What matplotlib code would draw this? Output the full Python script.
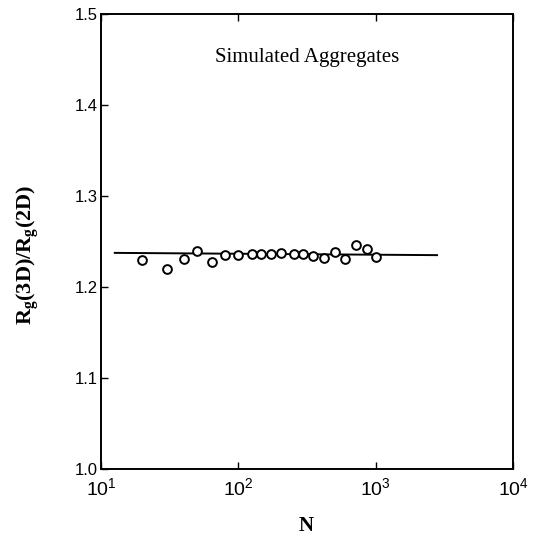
import math
import matplotlib
matplotlib.use("Agg")
import matplotlib.pyplot as plt
from matplotlib.ticker import FixedLocator, FuncFormatter, NullLocator

plt.rcParams['mathtext.fontset'] = 'custom'
plt.rcParams['mathtext.rm'] = 'Liberation Serif'
plt.rcParams['mathtext.bf'] = 'Liberation Serif:bold'
plt.rcParams['mathtext.it'] = 'Liberation Serif:italic'
plt.rcParams['mathtext.sf'] = 'Liberation Sans'

# data
N_vals = [20, 30, 40, 50, 64, 80, 100, 125, 146, 174, 204, 255, 297, 348, 421, 506, 598, 720, 861, 1007]
ratio = [1.2297, 1.2195, 1.2304, 1.2399, 1.2278, 1.2352, 1.2352, 1.2360, 1.2360, 1.2365,
         1.2370, 1.2360, 1.2360, 1.2344, 1.2322, 1.2388, 1.2308, 1.2462, 1.2414, 1.2326]
fit_N = [12.6, 2800]
fit_ratio = [1.2375, 1.2350]
title_text = "Simulated Aggregates"
yticks = [1.0, 1.1, 1.2, 1.3, 1.4, 1.5]
xticks = [10, 100, 1000, 10000]

fig = plt.figure(figsize=(5.39, 5.37), dpi=100)
ax = fig.add_axes([101/539, 1 - 469/537, (513-101)/539, (469-14)/537])

ax.plot(fit_N, fit_ratio, color='black', lw=1.4, zorder=2)
ax.plot(N_vals, ratio, 'o', ms=6.3, mfc='white', mec='black', mew=1.4, zorder=3)

ax.set_xscale('log')
ax.set_xlim(10, 10000)
ax.set_ylim(1.0, 1.5)
ax.xaxis.set_major_locator(FixedLocator(xticks))
ax.xaxis.set_minor_locator(NullLocator())
ax.xaxis.set_major_formatter(FuncFormatter(lambda v, p: r'$\mathsf{10^{%d}}$' % round(math.log10(v))))
ax.set_yticks(yticks)
ax.set_yticklabels([f"{v:.1f}" for v in yticks], fontfamily='Liberation Sans', fontsize=12)
ax.tick_params(axis='x', which='both', direction='in', top=True, length=5, width=1, labelsize=14, pad=6)
ax.tick_params(axis='y', direction='in', length=5, width=1, right=False, pad=2)
for s in ax.spines.values():
    s.set_linewidth(1.4)

ax.text(0.5, 0.905, title_text, transform=ax.transAxes, ha='center', va='center',
        fontfamily='Liberation Serif', fontsize=15)

fig.text(28/539, 1 - 255/537, r'$\mathbf{R_g(3D)/R_g(2D)}$', rotation=90, ha='center', va='center',
         fontsize=16)
fig.text(306/539, 1 - 526/537, 'N', ha='center', va='center', fontfamily='Liberation Serif',
         fontweight='bold', fontsize=15)

fig.savefig('out.png', dpi=100)
